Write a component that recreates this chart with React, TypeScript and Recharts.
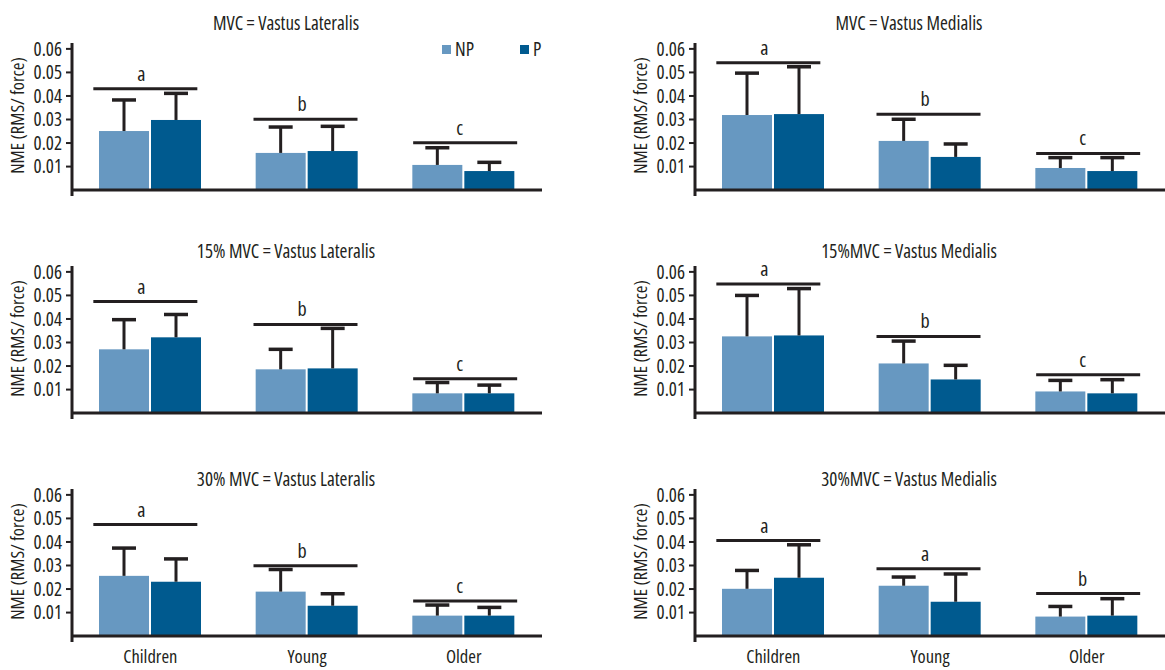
import React from 'react';
import { ComposedChart, Bar, Scatter, XAxis, YAxis, ReferenceLine, Legend } from 'recharts';

// ---------- data ----------
const groups = ['Children', 'Young', 'Older'];
const seriesNames = ['NP', 'P'];
const yTicks = [0.01, 0.02, 0.03, 0.04, 0.05, 0.06];

const titles = [
  'MVC = Vastus Lateralis',
  'MVC = Vastus Medialis',
  '15% MVC = Vastus Lateralis',
  '15%MVC = Vastus Medialis',
  '30% MVC = Vastus Lateralis',
  '30%MVC = Vastus Medialis',
];

// MVC – Vastus Lateralis
const mvcVL_NP = [0.0251, 0.0158, 0.0107];
const mvcVL_NPsd = [0.0132, 0.011, 0.0073];
const mvcVL_P = [0.0298, 0.0166, 0.0081];
const mvcVL_Psd = [0.0113, 0.0105, 0.0037];
const mvcVL_sig = [0.0431, 0.0301, 0.0201];
const mvcVL_letters = ['a', 'b', 'c'];

// MVC – Vastus Medialis
const mvcVM_NP = [0.0319, 0.0209, 0.0094];
const mvcVM_NPsd = [0.0178, 0.0092, 0.0044];
const mvcVM_P = [0.0323, 0.0141, 0.0081];
const mvcVM_Psd = [0.0201, 0.0055, 0.0057];
const mvcVM_sig = [0.0541, 0.0322, 0.0156];
const mvcVM_letters = ['a', 'b', 'c'];

// 15% MVC – Vastus Lateralis
const m15VL_NP = [0.0271, 0.0186, 0.0084];
const m15VL_NPsd = [0.0126, 0.0085, 0.0046];
const m15VL_P = [0.0322, 0.019, 0.0084];
const m15VL_Psd = [0.0097, 0.017, 0.0035];
const m15VL_sig = [0.0474, 0.0377, 0.0146];
const m15VL_letters = ['a', 'b', 'c'];

// 15% MVC – Vastus Medialis
const m15VM_NP = [0.0326, 0.0211, 0.0092];
const m15VM_NPsd = [0.0174, 0.0095, 0.0047];
const m15VM_P = [0.033, 0.0143, 0.0084];
const m15VM_Psd = [0.0199, 0.006, 0.0058];
const m15VM_sig = [0.0549, 0.0326, 0.0163];
const m15VM_letters = ['a', 'b', 'c'];

// 30% MVC – Vastus Lateralis
const m30VL_NP = [0.0256, 0.0189, 0.0087];
const m30VL_NPsd = [0.0118, 0.0094, 0.0045];
const m30VL_P = [0.0231, 0.0129, 0.0087];
const m30VL_Psd = [0.0097, 0.0051, 0.0035];
const m30VL_sig = [0.0474, 0.0299, 0.0149];
const m30VL_letters = ['a', 'b', 'c'];

// 30% MVC – Vastus Medialis
const m30VM_NP = [0.0201, 0.0214, 0.0083];
const m30VM_NPsd = [0.0078, 0.0037, 0.0043];
const m30VM_P = [0.0248, 0.0146, 0.0087];
const m30VM_Psd = [0.014, 0.0118, 0.0072];
const m30VM_sig = [0.0406, 0.0286, 0.0181];
const m30VM_letters = ['a', 'a', 'b'];

const panelSets = [
  [mvcVL_NP, mvcVL_NPsd, mvcVL_P, mvcVL_Psd, mvcVL_sig, mvcVL_letters],
  [mvcVM_NP, mvcVM_NPsd, mvcVM_P, mvcVM_Psd, mvcVM_sig, mvcVM_letters],
  [m15VL_NP, m15VL_NPsd, m15VL_P, m15VL_Psd, m15VL_sig, m15VL_letters],
  [m15VM_NP, m15VM_NPsd, m15VM_P, m15VM_Psd, m15VM_sig, m15VM_letters],
  [m30VL_NP, m30VL_NPsd, m30VL_P, m30VL_Psd, m30VL_sig, m30VL_letters],
  [m30VM_NP, m30VM_NPsd, m30VM_P, m30VM_Psd, m30VM_sig, m30VM_letters],
];

// ---------- styles ----------
const FONT = '"Open Sans", "DejaVu Sans Condensed", sans-serif';
const STRETCH = '75%';
const WEIGHT = 500;
const INK = '#231f20';
const NP_COLOR = '#6798c1';
const P_COLOR = '#005a8f';
const COL_LEFT = [0, 623];
const ROW_TOP = [0, 223, 446];
const TITLE_Y = [23, 27.5, 33];
const TITLE_X = 286;
const SIG_SHIFT = [-5, -1.5, 1.5];
const LETTER_SHIFT = [-9, -5, -4];

const makeBarShape = (valKey: string, sdKey: string) => (props: any) => {
  const { x, y, width, height, fill, payload } = props;
  const v = payload[valKey];
  const sd = payload[sdKey];
  const pxPerUnit = v ? height / v : 0;
  const top = y - sd * pxPerUnit;
  const cx = x + width / 2;
  return (
    <g>
      <rect x={x} y={y} width={width} height={height} fill={fill} />
      <line x1={cx} x2={cx} y1={y} y2={top} stroke={INK} strokeWidth={3} />
      <line x1={cx - 12} x2={cx + 12} y1={top} y2={top} stroke={INK} strokeWidth={3.5} />
    </g>
  );
};

const SigShape = (props: any) => {
  const { cx, cy, payload } = props;
  const i = groups.indexOf(payload.group);
  const lc = cx + SIG_SHIFT[i];
  return (
    <g>
      <line x1={lc - 52} x2={lc + 52} y1={cy} y2={cy} stroke={INK} strokeWidth={3} />
      <text x={cx + LETTER_SHIFT[i]} y={cy - 8} textAnchor="middle" fontSize={20} fontFamily={FONT} fill={INK}>
        {payload.letter}
      </text>
    </g>
  );
};

const YLabel = (props: any) => {
  const { viewBox } = props;
  const cy = viewBox.y + viewBox.height / 2 - 4;
  const x = 24;
  return (
    <text x={x} y={cy} transform={`rotate(-90, ${x}, ${cy})`} textAnchor="middle" fontSize={18.5} fontFamily={FONT} fill={INK}>
      NME (RMS/ force)
    </text>
  );
};

const LegendContent = (props: any) => {
  const items = (props.payload || []).filter((p: any) => seriesNames.includes(p.value));
  return (
    <div style={{ display: 'flex', fontFamily: FONT, fontStretch: STRETCH, fontWeight: WEIGHT, fontSize: 19, color: INK, lineHeight: '19px' }}>
      {items.map((it: any, k: number) => (
        <div key={it.value} style={{ display: 'flex', alignItems: 'center', width: k === 0 ? 78 : 'auto' }}>
          <span style={{ display: 'inline-block', width: 9, height: 9, background: it.color, marginRight: 4 }} />
          <span>{it.value}</span>
        </div>
      ))}
    </div>
  );
};

function Panel({ idx }: { idx: number }) {
  const col = idx % 2;
  const row = Math.floor(idx / 2);
  const [np, npSd, p, pSd, sig, letters] = panelSets[idx] as any[];
  const data = groups.map((g, i) => ({
    group: g,
    NP: np[i],
    npSd: npSd[i],
    P: p[i],
    pSd: pSd[i],
    sig: sig[i],
    letter: letters[i],
  }));
  return (
    <div style={{ position: 'absolute', left: COL_LEFT[col], top: ROW_TOP[row], width: 542, height: 224 }}>
      <ComposedChart width={542} height={224} data={data} margin={{ top: 43, right: 0, bottom: 0, left: 0 }} barGap={2}>
        <XAxis
          dataKey="group"
          axisLine={false}
          tickLine={false}
          height={28}
          tickMargin={2}
          interval={0}
          tick={row === 2 ? { fontSize: 18.5, fill: INK, fontFamily: FONT } : false}
        />
        <YAxis
          type="number"
          domain={[-0.0025, 0.0625]}
          ticks={yTicks}
          interval={0}
          width={72}
          axisLine={{ stroke: INK, strokeWidth: 3 }}
          tickLine={{ stroke: INK, strokeWidth: 2 }}
          tickSize={6}
          tickMargin={4}
          tick={{ fontSize: 19, fill: INK, fontFamily: FONT }}
          tickFormatter={(v: number) => v.toFixed(2)}
          label={<YLabel />}
        />
        <ReferenceLine y={0} stroke={INK} strokeWidth={3} />
        <Bar dataKey="NP" name="NP" fill={NP_COLOR} barSize={50} isAnimationActive={false} shape={makeBarShape('NP', 'npSd')} />
        <Bar dataKey="P" name="P" fill={P_COLOR} barSize={50} isAnimationActive={false} shape={makeBarShape('P', 'pSd')} />
        <Scatter dataKey="sig" name="sig" legendType="none" isAnimationActive={false} shape={SigShape} />
        {idx === 0 && (
          <Legend
            layout="horizontal"
            verticalAlign="middle"
            align="center"
            content={<LegendContent />}
            wrapperStyle={{ left: 442, top: 39.5, width: 'auto', height: 'auto' }}
          />
        )}
      </ComposedChart>
      <div
        style={{
          position: 'absolute',
          left: TITLE_X,
          top: TITLE_Y[row],
          transform: 'translate(-50%, -50%)',
          whiteSpace: 'nowrap',
          fontFamily: FONT,
          fontStretch: STRETCH,
          fontWeight: WEIGHT,
          fontSize: 19,
          color: INK,
        }}
      >
        {titles[idx]}
      </div>
    </div>
  );
}

export default function App() {
  return (
    <div className="chart-root" style={{ position: 'absolute', left: 0, top: 0, width: 1165, height: 670, background: '#fff', overflow: 'hidden' }}>
      <style>{`.chart-root svg text { font-family: "Open Sans", "DejaVu Sans Condensed", sans-serif; font-stretch: 75%; font-weight: 500; }`}</style>
      {[0, 1, 2, 3, 4, 5].map((i) => (
        <Panel key={i} idx={i} />
      ))}
    </div>
  );
}
